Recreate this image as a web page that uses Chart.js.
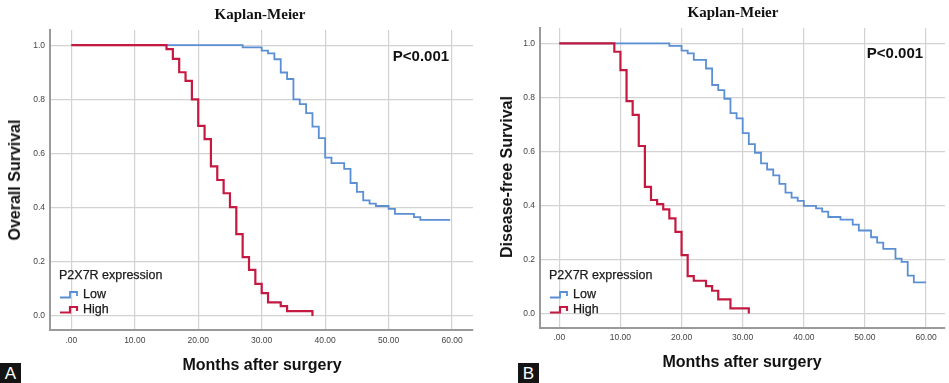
<!DOCTYPE html>
<html>
<head>
<meta charset="utf-8">
<script src="https://cdn.jsdelivr.net/npm/chart.js@4.4.1/dist/chart.umd.min.js"></script>
<style>
  body { margin: 0; background: #fff; }
  #wrap { position: relative; width: 949px; height: 383px; overflow: hidden; font-family: "Liberation Sans", Arial, sans-serif; }
  canvas { position: absolute; top: 0; }
  .t { position: absolute; white-space: nowrap; transform: translate(-50%, -50%); color: #111; }
  .title { font-family: "Liberation Serif", "Times New Roman", serif; font-weight: bold; font-size: 15px; }
  .axt { font-weight: bold; font-size: 16px; }
  .yt { transform: translate(-50%, -50%) rotate(-90deg); }
  .pval { font-weight: bold; font-size: 15px; }
  .leg { position: absolute; font-size: 12.5px; color: #1a1a1a; line-height: 15px; -webkit-text-stroke: 0.25px #1a1a1a; }
  .leg svg { vertical-align: -1px; margin-right: 4px; }
  .tag { position: absolute; background: #141414; color: #fff; font-size: 17px; width: 21px; height: 20px; text-align: center; line-height: 21px; }
</style>
</head>
<body>
<div id="wrap">
  <canvas id="chartA" width="475" height="383" style="left:0"></canvas>
  <canvas id="chartB" width="474" height="383" style="left:475px"></canvas>

  <div class="t title" style="left:260px;top:14px">Kaplan-Meier</div>
  <div class="t title" style="left:733px;top:12px">Kaplan-Meier</div>
  <div class="t axt yt" style="left:15px;top:180px">Overall Survival</div>
  <div class="t axt yt" style="left:507px;top:177px">Disease-free Survival</div>
  <div class="t axt" style="left:262px;top:365px">Months after surgery</div>
  <div class="t axt" style="left:742px;top:362px">Months after surgery</div>
  <div class="t pval" style="left:421px;top:55px">P&lt;0.001</div>
  <div class="t pval" style="left:895px;top:52px">P&lt;0.001</div>

  <div class="leg" style="left:59px;top:268px">
    <div>P2X7R expression</div>
    <div style="margin-top:4px"><svg width="20" height="9"><path d="M1 7.5H11V2H18V6" fill="none" stroke="#5b8fd4" stroke-width="1.8"/></svg>Low</div>
    <div><svg width="20" height="9"><path d="M1 7.5H11V2H18V6" fill="none" stroke="#c41a42" stroke-width="2.2"/></svg>High</div>
  </div>
  <div class="leg" style="left:549px;top:268px">
    <div>P2X7R expression</div>
    <div style="margin-top:4px"><svg width="20" height="9"><path d="M1 7.5H11V2H18V6" fill="none" stroke="#5b8fd4" stroke-width="1.8"/></svg>Low</div>
    <div><svg width="20" height="9"><path d="M1 7.5H11V2H18V6" fill="none" stroke="#c41a42" stroke-width="2.2"/></svg>High</div>
  </div>

  <div class="tag" style="left:0;top:363px">A</div>
  <div class="tag" style="left:518px;top:363px">B</div>
</div>

<script>
// Tick values
const xTicks = [0, 10, 20, 30, 40, 50, 60];
const yTicks = [0, 0.2, 0.4, 0.6, 0.8, 1.0];

// Panel A - overall survival (months, cumulative survival)
const aLowTimes = [0, 27, 30, 31, 32, 33, 34, 35, 36, 37, 38, 39, 40, 41, 43, 44, 45, 46, 47, 48, 50, 51, 54, 55, 59.7];
const aLowSurv  = [1.0, 0.992, 0.980, 0.970, 0.948, 0.899, 0.875, 0.800, 0.782, 0.749, 0.699, 0.657, 0.585, 0.564, 0.543, 0.491, 0.458, 0.427, 0.415, 0.406, 0.395, 0.377, 0.365, 0.355, 0.355];
const aHighTimes = [0, 15, 16, 17, 18, 19, 20, 21, 22, 23, 24, 25, 26, 27, 28, 29, 30, 31, 33, 34, 38];
const aHighSurv  = [1.0, 0.985, 0.949, 0.900, 0.868, 0.800, 0.702, 0.653, 0.552, 0.502, 0.453, 0.402, 0.302, 0.217, 0.170, 0.118, 0.084, 0.050, 0.036, 0.018, 0.0];

// Panel B - disease-free survival
const bLowTimes = [0, 18, 20, 21, 22, 24, 25, 26, 27, 28, 29, 30, 31, 32, 33, 34, 35, 36, 37, 38, 39, 40, 42, 43, 44, 46, 48, 49, 51, 52, 53, 55, 56, 57, 58, 60];
const bLowSurv  = [1.0, 0.991, 0.973, 0.963, 0.939, 0.907, 0.846, 0.827, 0.795, 0.742, 0.722, 0.668, 0.627, 0.595, 0.556, 0.533, 0.511, 0.480, 0.447, 0.429, 0.417, 0.398, 0.389, 0.377, 0.357, 0.347, 0.329, 0.307, 0.282, 0.262, 0.239, 0.203, 0.191, 0.140, 0.115, 0.115];
const bHighTimes = [0, 9, 10, 11, 12, 13, 14, 15, 16, 17, 18, 19, 20, 21, 22, 24, 25, 26, 28, 31];
const bHighSurv  = [1.0, 0.969, 0.901, 0.786, 0.735, 0.620, 0.469, 0.420, 0.405, 0.385, 0.352, 0.302, 0.216, 0.138, 0.121, 0.101, 0.084, 0.052, 0.019, 0.0];

const LOW_COLOR = '#5b8fd4';
const HIGH_COLOR = '#c41a42';

function pts(times, surv) { return times.map((t, i) => ({ x: t, y: surv[i] })); }

function makeChart(id, low, high, box) {
    const tickFont = { family: '"Liberation Sans", Arial, sans-serif', size: 8.5 };
    return new Chart(document.getElementById(id), {
        type: 'line',
        data: {
            datasets: [
                { label: 'Low', data: low, stepped: true, borderColor: LOW_COLOR, borderWidth: 1.8, pointRadius: 0, fill: false, order: 1 },
                { label: 'High', data: high, stepped: true, borderColor: HIGH_COLOR, borderWidth: 2.2, pointRadius: 0, fill: false, order: 0 }
            ]
        },
        options: {
            responsive: false, animation: false, devicePixelRatio: 1,
            layout: { padding: { left: 0, right: box.right, top: box.top, bottom: 0 } },
            plugins: { legend: { display: false }, tooltip: { enabled: false } },
            scales: {
                x: {
                    type: 'linear', min: box.xmin, max: box.xmax,
                    afterBuildTicks: s => { s.ticks = xTicks.map(v => ({ value: v })); },
                    afterFit: s => { s.height = box.xh; },
                    ticks: { font: tickFont, color: '#444', padding: box.xpad, maxRotation: 0, autoSkip: false,
                             callback: v => v === 0 ? '.00' : v.toFixed(2) },
                    grid: { color: '#d2d2d2', lineWidth: 1.2, drawTicks: false },
                    border: { color: '#9a9a9a', width: 2 }
                },
                y: {
                    min: box.ymin, max: box.ymax,
                    afterBuildTicks: s => { s.ticks = yTicks.map(v => ({ value: v })); },
                    afterFit: s => { s.width = box.yw; },
                    ticks: { font: tickFont, color: '#444', padding: 5, autoSkip: false,
                             callback: v => v.toFixed(1) },
                    grid: { color: '#d2d2d2', lineWidth: 1.2, drawTicks: false },
                    border: { color: '#9a9a9a', width: 2 }
                }
            }
        }
    });
}

makeChart('chartA', pts(aLowTimes, aLowSurv), pts(aHighTimes, aHighSurv),
    { top: 30, right: 2, yw: 50, xh: 53, xpad: 6, xmin: -3.36, xmax: 63.3, ymin: -0.052, ymax: 1.056 });
makeChart('chartB', pts(bLowTimes, bLowSurv), pts(bHighTimes, bHighSurv),
    { top: 28, right: 4, yw: 65, xh: 55, xpad: 5, xmin: -3.16, xmax: 63.1, ymin: -0.054, ymax: 1.057 });
</script>
</body>
</html>
